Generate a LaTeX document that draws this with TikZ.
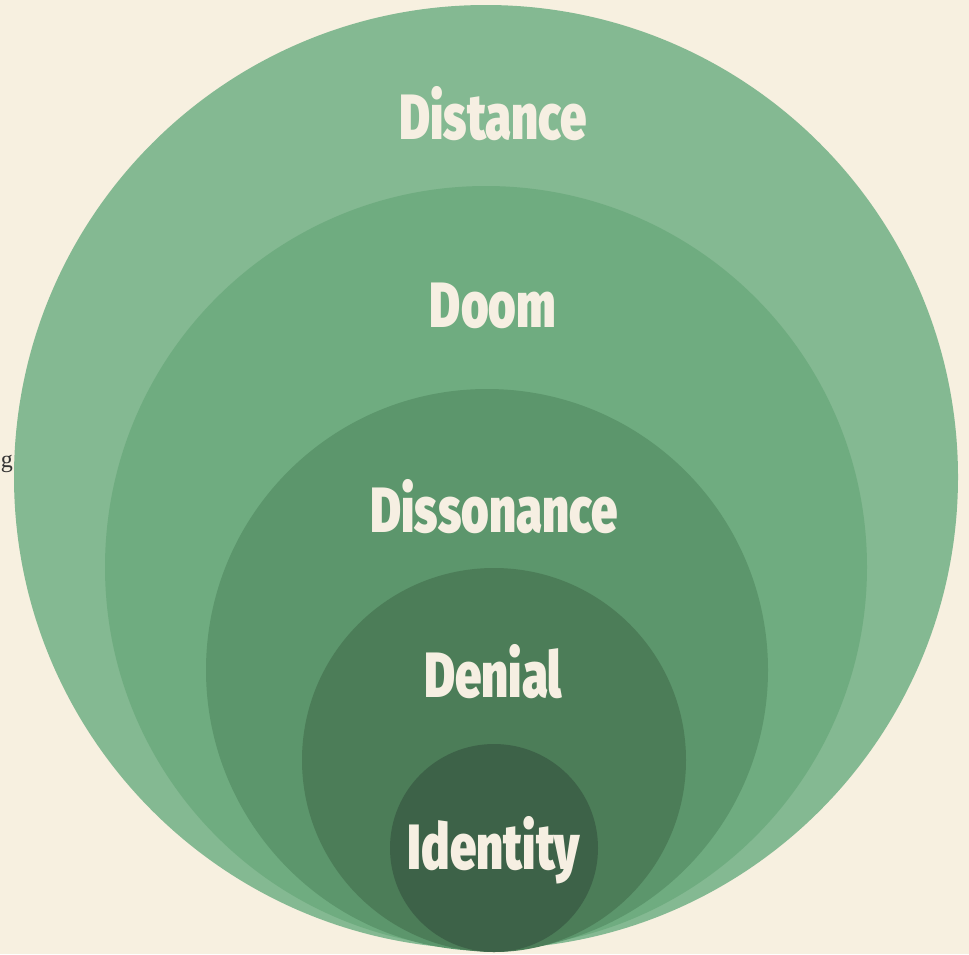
\documentclass[tikz,border=0pt]{standalone}
\usepackage{fontspec}
\setmainfont{Fira Sans}
\newfontfamily\labfont{Fira Sans}[UprightFont=* Black]
\newfontfamily\serfont{Liberation Serif}
\definecolor{bgc}{HTML}{F7F0E0}
\definecolor{c1}{HTML}{84B992}
\definecolor{c2}{HTML}{6FAC80}
\definecolor{c3}{HTML}{5C966C}
\definecolor{c4}{HTML}{4C7D58}
\definecolor{c5}{HTML}{3D6248}
\definecolor{txt}{HTML}{F6EFE2}
\newcommand{\lab}[1]{\scalebox{0.74}[1]{\labfont\fontsize{64}{64}\selectfont #1}}
\tikzset{
  ring/.style={circle, inner sep=0pt, minimum size=#1, draw=none},
  word/.style={text=txt, inner sep=0pt, anchor=center}
}
\begin{document}
\begin{tikzpicture}[x=1pt,y=-1pt]
\fill[bgc] (0,0) rectangle (969,954);
\useasboundingbox (0,0) rectangle (969,954);
\node[ring=944pt, fill=c1] (c1) at (486,477) {};
\node[ring=762pt, fill=c2] (c2) at (486,567) {};
\node[ring=562pt, fill=c3] (c3) at (487,670) {};
\node[ring=384pt, fill=c4] (c4) at (494,760) {};
\node[ring=208pt, fill=c5] (c5) at (494,848) {};
\node[word] (t1) at (493,114) {\lab{Distance}};
\node[word] (t2) at (493,306) {\lab{Doom}};
\node[word] (t3) at (494,507) {\lab{Dissonance}};
\node[word] (t4) at (493,672) {\lab{Denial}};
\node[word] (t5) at (494,850) {\lab{Identity}};
\node[anchor=base east, inner sep=0pt, text=black!80] (g) at (13,467) {\serfont\fontsize{24}{24}\selectfont g};
\end{tikzpicture}
\end{document}
